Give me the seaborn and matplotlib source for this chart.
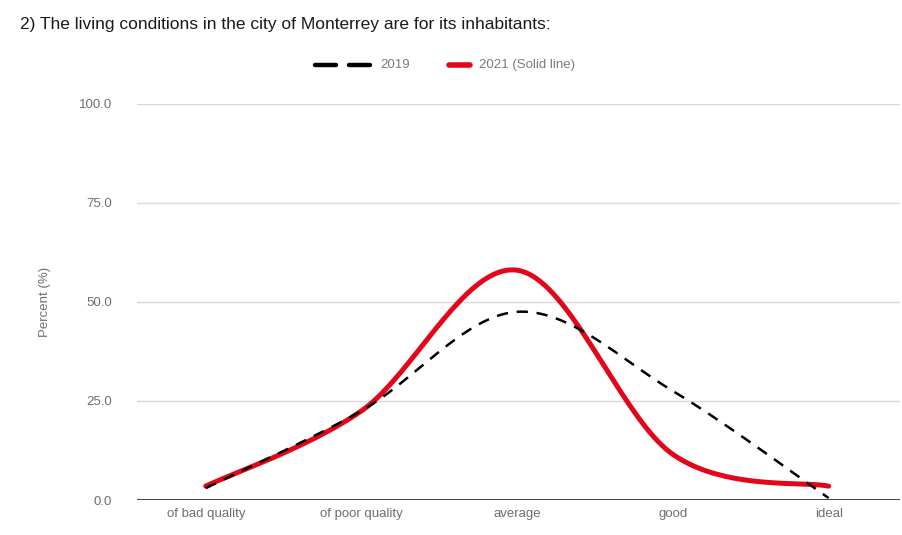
import numpy as np
import pandas as pd
import matplotlib
matplotlib.use("Agg")
import matplotlib.pyplot as plt
import seaborn as sns

categories = ["of bad quality", "of poor quality", "average", "good", "ideal"]
values_2019 = [3.0, 22.5, 47.5, 27.5, 0.5]
values_2021 = [3.5, 22.5, 58.0, 11.5, 3.5]
y_ticks = [0, 25, 50, 75, 100]


def smooth(vals, n=40, tension=0.5):
    # catmull-rom style curve through the points, like the "function" curve type
    p = np.asarray(vals, dtype=float)
    x = np.arange(len(p), dtype=float)
    px = np.concatenate([[x[0]], x, [x[-1]]])
    py = np.concatenate([[p[0]], p, [p[-1]]])
    xs, ys = [], []
    for i in range(1, len(px) - 2):
        t = np.linspace(0, 1, n, endpoint=False)
        for arr, out in ((px, xs), (py, ys)):
            p0, p1, p2, p3 = arr[i - 1], arr[i], arr[i + 1], arr[i + 2]
            m1 = tension * (p2 - p0)
            m2 = tension * (p3 - p1)
            h00 = 2 * t**3 - 3 * t**2 + 1
            h10 = t**3 - 2 * t**2 + t
            h01 = -2 * t**3 + 3 * t**2
            h11 = t**3 - t**2
            out.extend(h00 * p1 + h10 * m1 + h01 * p2 + h11 * m2)
    xs.append(x[-1])
    ys.append(p[-1])
    return pd.DataFrame({"x": xs, "y": ys})


sns.set_style("white")
plt.rcParams["font.family"] = ["Liberation Sans", "DejaVu Sans"]

fig = plt.figure(figsize=(9.03, 5.35), dpi=100)
ax = fig.add_axes([0.152, 0.0654, 0.845, 0.7406])

for v in y_ticks[1:]:
    ax.axhline(v, color="#d9d9d9", lw=1, zorder=0)
ax.axhline(0, color="#333333", lw=1.3, zorder=1)

d19 = smooth(values_2019)
d21 = smooth(values_2021)
sns.lineplot(data=d21, x="x", y="y", ax=ax, color="#e3061b", lw=3.6,
             sort=False, zorder=3, solid_capstyle="round")
sns.lineplot(data=d19, x="x", y="y", ax=ax, color="black", lw=1.8,
             sort=False, zorder=4, dashes=(4.5, 3.5))

ax.set_xlim(-0.44, 4.46)
ax.set_ylim(0, 100)
ax.set_xticks(range(len(categories)))
ax.set_xticklabels(categories)
ax.set_yticks(y_ticks)
ax.set_yticklabels([f"{v:.1f}" for v in y_ticks])
ax.tick_params(axis="both", length=0, labelsize=9.5, labelcolor="#6e6e6e")
ax.tick_params(axis="y", pad=18)
ax.tick_params(axis="x", pad=6)
ax.set_xlabel("")
ax.set_ylabel("Percent (%)", fontsize=9.5, color="#6e6e6e", labelpad=20)
sns.despine(ax=ax, left=True, bottom=True)

fig.text(0.022, 0.955, "2) The living conditions in the city of Monterrey are for its inhabitants:",
         fontsize=12.5, color="#1a1a1a", va="center")

# legend drawn in figure coords
leg_y = 0.878
for x0, x1 in [(0.349, 0.372), (0.387, 0.41)]:
    fig.add_artist(plt.Line2D([x0, x1], [leg_y, leg_y], color="black", lw=3.2,
                              transform=fig.transFigure))
fig.text(0.421, leg_y, "2019", fontsize=9.5, color="#7a7a7a", va="center")
fig.add_artist(plt.Line2D([0.497, 0.52], [leg_y, leg_y], color="#e3061b", lw=4,
                          transform=fig.transFigure))
fig.text(0.53, leg_y, "2021 (Solid line)", fontsize=9.5, color="#7a7a7a", va="center")

fig.savefig("out.png", dpi=100)
